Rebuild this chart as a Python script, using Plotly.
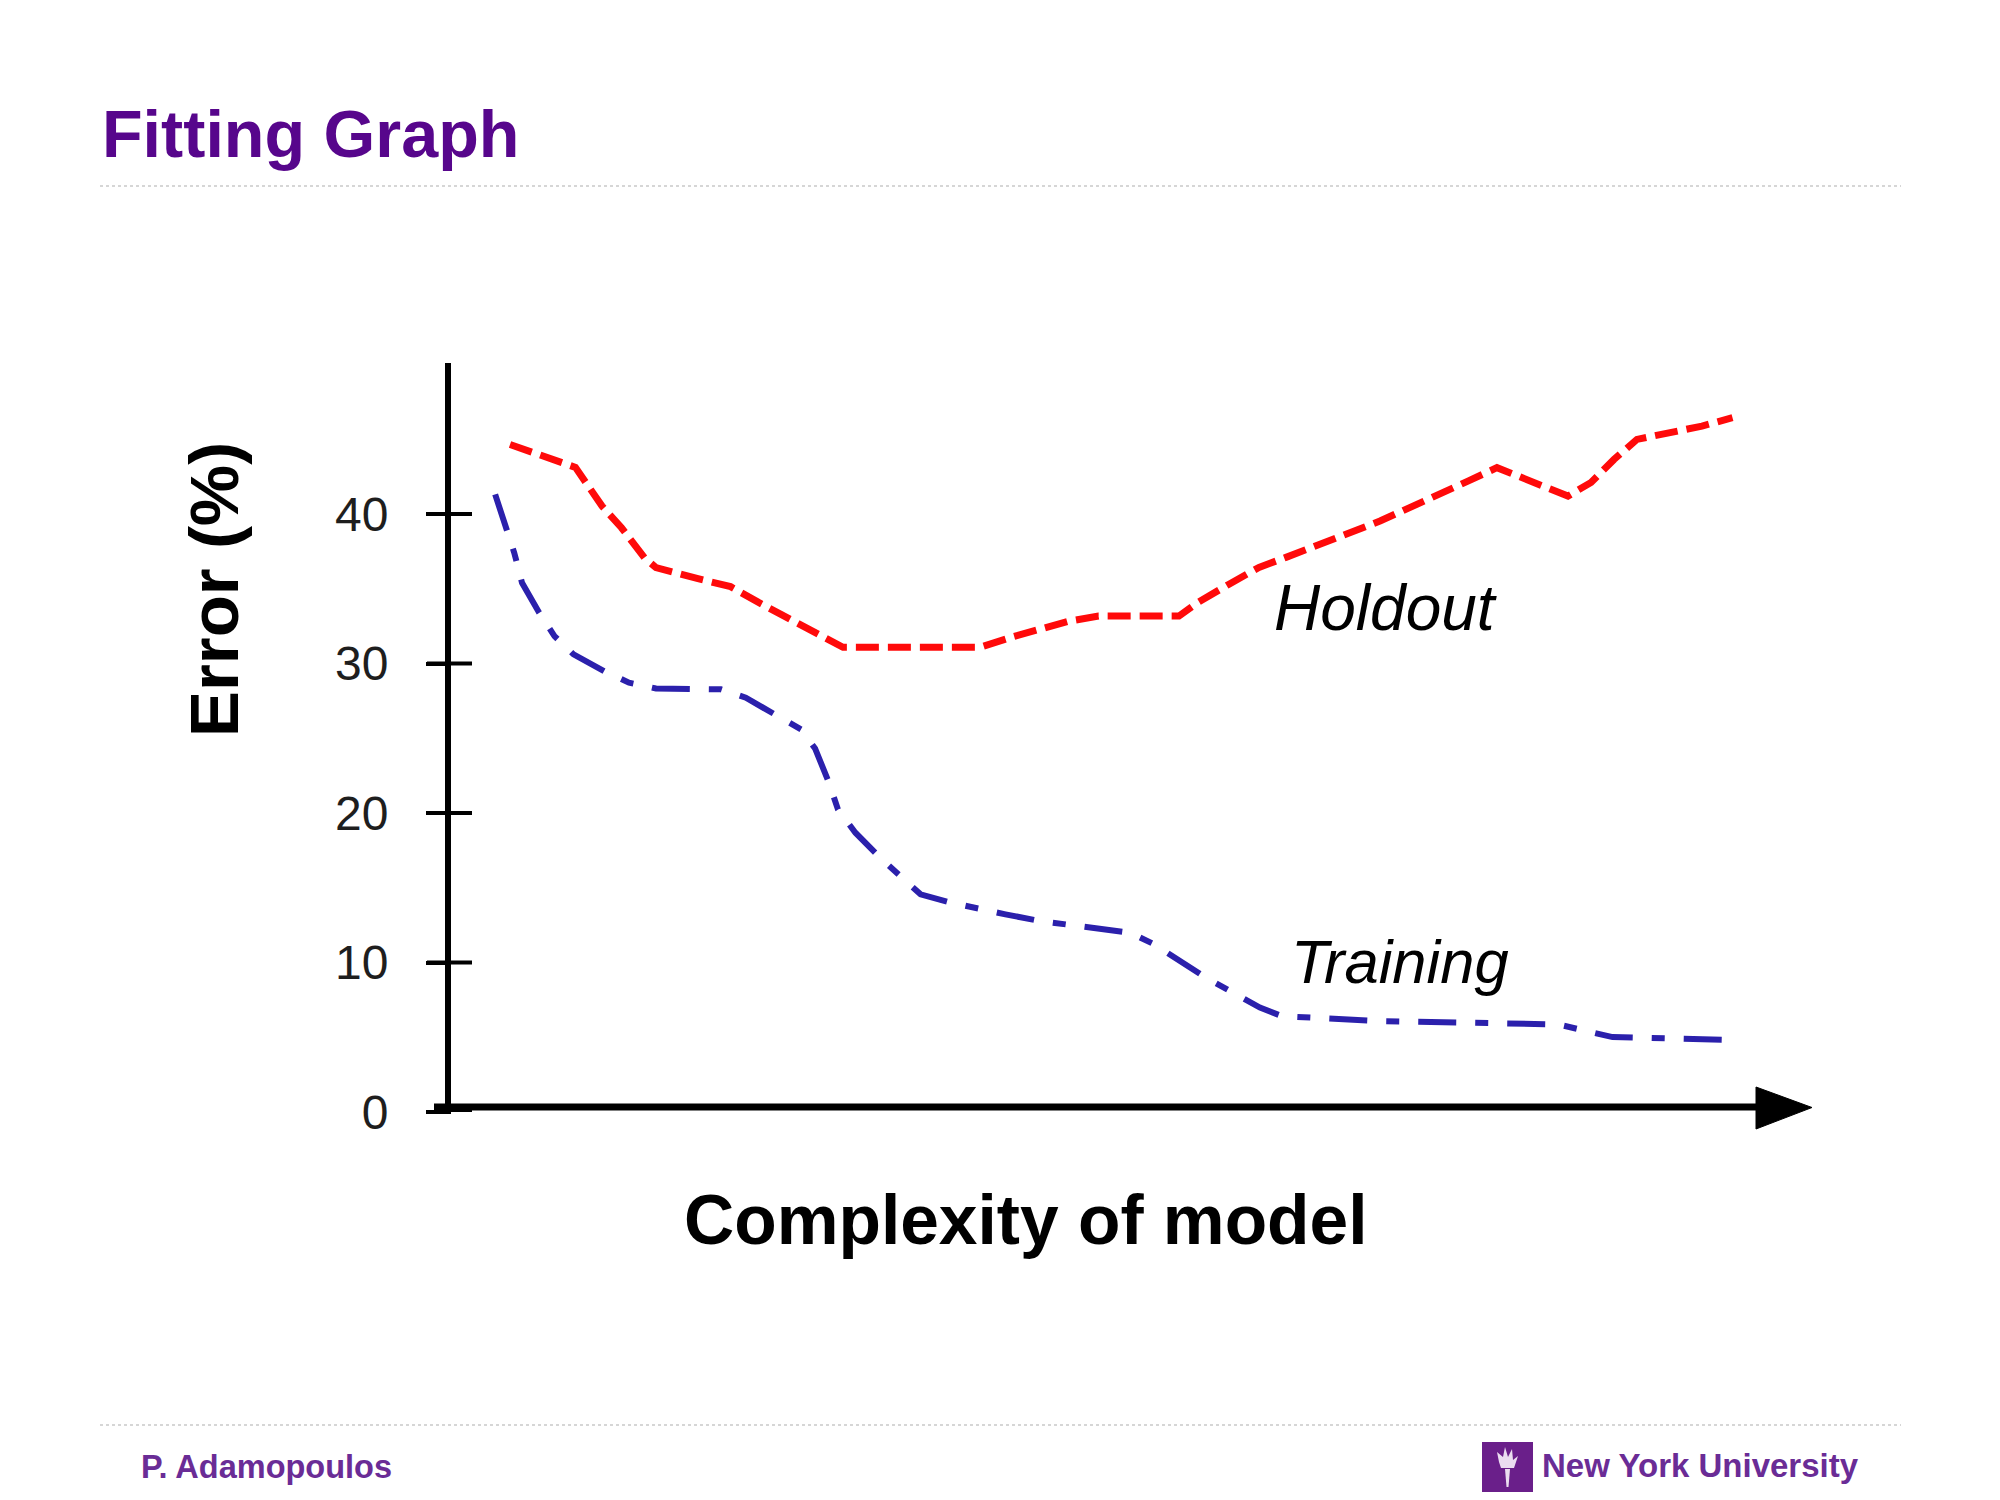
import plotly.graph_objects as go

# ---------------- data ----------------
holdout_complexity = [4.55, 8.22, 9.35, 11.30, 12.73, 14.41, 15.26, 18.34, 20.73, 22.82,
                      24.94, 27.04, 28.98, 39.03, 41.53, 45.49, 47.73, 53.63, 55.03, 57.27,
                      59.50, 61.48, 63.73, 65.88, 68.38, 70.65, 72.78, 74.83, 76.96, 79.38,
                      82.17, 83.86, 85.55, 87.23, 89.73, 92.00, 94.24]
holdout_error = [44.65, 43.54, 43.12, 40.53, 39.08, 37.08, 36.41, 35.67, 35.14, 34.07,
                 33.06, 32.06, 31.08, 31.08, 31.81, 32.82, 33.17, 33.17, 34.09, 35.29,
                 36.43, 37.10, 37.85, 38.64, 39.53, 40.44, 41.31, 42.20, 43.10, 42.20,
                 41.20, 42.11, 43.65, 44.99, 45.46, 45.88, 46.44]

training_complexity = [3.46, 4.31, 4.86, 5.43, 6.69, 7.81, 9.21, 11.46, 13.28, 15.26,
                       20.03, 21.85, 24.21, 25.90, 26.93, 27.95, 28.61, 29.89, 31.58, 32.98,
                       34.67, 36.90, 39.03, 40.90, 43.48, 45.49, 50.04, 51.83, 55.61, 57.59,
                       59.57, 61.19, 68.31, 81.44, 83.42, 85.44, 94.57]
training_error = [41.31, 38.86, 37.41, 35.40, 33.40, 31.83, 30.61, 29.49, 28.72, 28.33,
                  28.27, 27.71, 26.48, 25.59, 24.32, 22.03, 20.24, 18.68, 17.12, 16.01,
                  14.56, 14.00, 13.55, 13.22, 12.77, 12.55, 11.99, 11.21, 8.98, 7.98,
                  6.98, 6.41, 6.08, 5.86, 5.41, 5.01, 4.81]

y_tick_values = [0, 10, 20, 30, 40]
y_tick_labels = ["0", "10", "20", "30", "40"]

title_text = "Fitting Graph"
x_title = "Complexity of model"
y_title = "Error (%)"
holdout_label = "Holdout"
training_label = "Training"
footer_left = "P. Adamopoulos"
footer_right = "New York University"

# ---------------- layout geometry ----------------
W, H = 2000, 1500
L, R, T, B = 448, 189, 364, 388
PW = W - L - R
PH = H - T - B
X_RANGE = [0, 100]
Y_RANGE = [0, PH / 14.95]


def px(x):
    return (x - L) / PW


def py(y):
    return (H - B - y) / PH


PURPLE = "#57068C"
FOOT_PURPLE = "#6A2C96"
SANS = "Liberation Sans, Arial, sans-serif"

fig = go.Figure()
fig.add_trace(go.Scatter(
    x=holdout_complexity, y=holdout_error, mode="lines", name=holdout_label,
    line=dict(color="#FF0A0A", width=7, dash="23px,9px"), hoverinfo="skip"))
fig.add_trace(go.Scatter(
    x=training_complexity, y=training_error, mode="lines", name=training_label,
    line=dict(color="#2B20AC", width=6, dash="38px,19px,13px,19px"), hoverinfo="skip"))

shapes = []
# y axis line
shapes.append(dict(type="line", xref="paper", yref="paper",
                   x0=px(448), x1=px(448), y0=py(363), y1=py(1114),
                   line=dict(color="black", width=6)))
# x axis line
shapes.append(dict(type="line", xref="paper", yref="paper",
                   x0=px(434), x1=px(1760), y0=py(1107), y1=py(1107),
                   line=dict(color="black", width=7)))
# arrow head
shapes.append(dict(type="path", xref="paper", yref="paper",
                   path=f"M {px(1756)} {py(1087)} L {px(1812)} {py(1107.5)} L {px(1756)} {py(1129)} Z",
                   fillcolor="black", line=dict(color="black", width=1)))
# crossing tick marks
for v in y_tick_values:
    shapes.append(dict(type="line", xref="paper", yref="y",
                       x0=px(427), x1=px(472), y0=v, y1=v,
                       line=dict(color="black", width=4)))
# separators
for yy in (186, 1425):
    shapes.append(dict(type="line", xref="paper", yref="paper",
                       x0=px(100), x1=px(1901), y0=py(yy), y1=py(yy),
                       line=dict(color="#C9C9C9", width=1.5, dash="dot")))
# NYU logo box
shapes.append(dict(type="rect", xref="paper", yref="paper",
                   x0=px(1482), x1=px(1533), y0=py(1442), y1=py(1492),
                   fillcolor="#6A1F8A", line=dict(width=0)))
# torch stem
shapes.append(dict(type="path", xref="paper", yref="paper",
                   path=(f"M {px(1505)} {py(1469)} L {px(1510)} {py(1469)} "
                         f"L {px(1508.5)} {py(1487)} L {px(1506.5)} {py(1487)} Z"),
                   fillcolor="#EBDDF0", line=dict(width=0)))
# torch flame
shapes.append(dict(type="path", xref="paper", yref="paper",
                   path=(f"M {px(1501)} {py(1468)} L {px(1514)} {py(1468)} "
                         f"L {px(1518)} {py(1456)} L {px(1513)} {py(1460)} "
                         f"L {px(1512)} {py(1449)} L {px(1508)} {py(1457)} "
                         f"L {px(1505)} {py(1447)} L {px(1503)} {py(1457)} "
                         f"L {px(1497)} {py(1452)} L {px(1499)} {py(1462)} Z"),
                   fillcolor="#EBDDF0", line=dict(width=0)))

annotations = [
    dict(text=title_text, x=px(100), y=py(134.5), xanchor="left", yanchor="middle",
         font=dict(family=SANS, size=66.5, color=PURPLE, weight="bold")),
    dict(text=footer_left, x=px(139), y=py(1466.5), xanchor="left", yanchor="middle",
         font=dict(family=SANS, size=32.5, color=FOOT_PURPLE, weight="bold")),
    dict(text=footer_right, x=px(1539.5), y=py(1465.5), xanchor="left", yanchor="middle",
         font=dict(family=SANS, size=33, color=FOOT_PURPLE, weight="bold")),
    dict(text=x_title, x=px(1025.5), y=py(1220), xanchor="center", yanchor="middle",
         font=dict(family=SANS, size=69.5, color="black", weight="bold")),
    dict(text=y_title, x=px(214), y=py(590), xanchor="center", yanchor="middle",
         textangle=-90, font=dict(family=SANS, size=69, color="black", weight="bold")),
    dict(text=holdout_label, x=px(1385), y=py(607.5), xanchor="center", yanchor="middle",
         font=dict(family=SANS, size=64, color="black", style="italic")),
    dict(text=training_label, x=px(1400), y=py(961), xanchor="center", yanchor="middle",
         font=dict(family=SANS, size=61.5, color="black", style="italic")),
]
for a in annotations:
    a.update(xref="paper", yref="paper", showarrow=False)

fig.update_layout(
    width=W, height=H,
    margin=dict(l=L, r=R, t=T, b=B, pad=0),
    paper_bgcolor="white", plot_bgcolor="white",
    showlegend=False,
    shapes=shapes, annotations=annotations,
    xaxis=dict(range=X_RANGE, visible=False, fixedrange=True),
    yaxis=dict(range=Y_RANGE, tickvals=y_tick_values, ticktext=y_tick_labels,
               ticks="outside", ticklen=21, tickwidth=4, tickcolor="black",
               showline=False, showgrid=False, zeroline=False, fixedrange=True,
               ticklabelstandoff=28,
               tickfont=dict(family=SANS, size=48, color="#1E1E1E")),
)

fig.write_html("out.html", config={"displayModeBar": False},
               post_script="document.body.style.margin='0px';")
